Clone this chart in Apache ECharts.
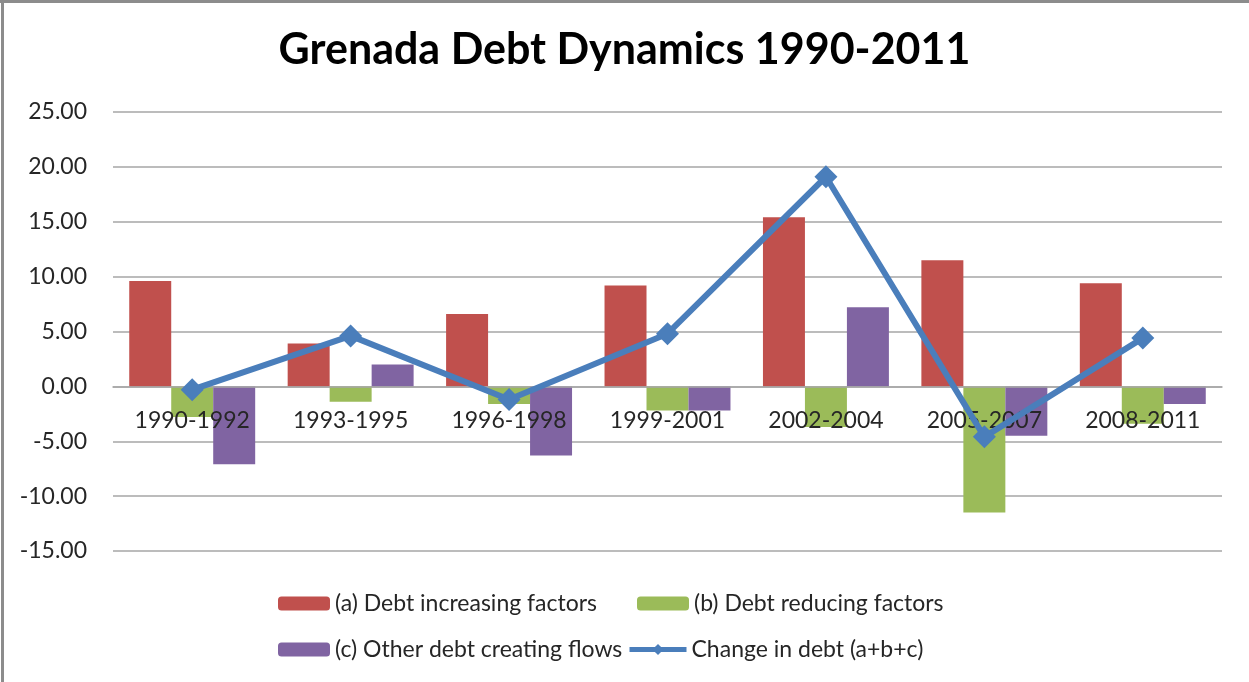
<!DOCTYPE html>
<html>
<head>
<meta charset="utf-8">
<title>Grenada Debt Dynamics 1990-2011</title>
<script src="https://cdn.jsdelivr.net/npm/echarts@6/dist/echarts.min.js"></script>
<style>
  html, body { margin: 0; padding: 0; background: #fff; }
  #chart { width: 1249px; height: 682px; }
</style>
</head>
<body>
<div id="chart"></div>
<script>
// Periods along the horizontal axis
const periods = ['1990-1992', '1993-1995', '1996-1998', '1999-2001', '2002-2004', '2005-2007', '2008-2011'];

// Contributions to the change in public debt (% of GDP)
const debtIncreasing = [9.6, 3.9, 6.6, 9.2, 15.4, 11.5, 9.4];
const debtReducing = [-2.8, -1.4, -1.6, -2.2, -3.7, -11.5, -3.4];
const otherFlows = [-7.1, 2.0, -6.3, -2.2, 7.2, -4.5, -1.6];
const changeInDebt = [-0.3, 4.6, -1.2, 4.8, 19.1, -4.6, 4.4];

// Value axis range and step
const yMin = -15;
const yMax = 25;
const yStep = 5;

const seriesNames = [
  '(a) Debt increasing factors',
  '(b) Debt reducing factors',
  '(c) Other debt creating flows',
  'Change in debt (a+b+c)'
];

const FONT = 'Lato, "Open Sans", sans-serif';
const LINE_BLUE = '#4a7ebb';
const GRID_TOP = 112;
const GRID_BOTTOM = 131;
const chartHeight = 682;

const chart = echarts.init(document.getElementById('chart'), null, { renderer: 'canvas' });

// Pixel distance from the bottom of the plot to the zero line,
// so the category axis (line and labels) sits at zero
const plotHeight = chartHeight - GRID_TOP - GRID_BOTTOM;
const zeroOffset = -plotHeight * (0 - yMin) / (yMax - yMin);

function legendAt(name, left, top, w, h, extra) {
  return Object.assign({
    data: [name],
    left: left,
    top: top,
    padding: 0,
    itemWidth: w,
    itemHeight: h,
    itemGap: 5,
    selectedMode: false,
    textStyle: { fontFamily: FONT, fontSize: 23, color: '#262626' }
  }, extra || {});
}

chart.setOption({
  animation: false,
  backgroundColor: '#ffffff',
  title: {
    text: 'Grenada Debt Dynamics 1990-2011',
    left: 'center',
    top: 24,
    textStyle: { fontFamily: FONT, fontSize: 43, fontWeight: 'bold', color: '#000' }
  },
  legend: [
    legendAt(seriesNames[0], 278, 592, 52, 14),
    legendAt(seriesNames[1], 637, 592, 52, 14),
    legendAt(seriesNames[2], 278, 638, 52, 14),
    legendAt(seriesNames[3], 627, 638, 57, 14, {
      lineStyle: { width: 5, color: LINE_BLUE }
    })
  ],
  grid: { left: 113, right: 27, top: GRID_TOP, bottom: GRID_BOTTOM, containLabel: false },
  xAxis: {
    type: 'category',
    data: periods,
    offset: zeroOffset,
    z: 10,
    axisLine: { onZero: false, lineStyle: { color: '#a6a6a6', width: 1.5 } },
    axisTick: { show: false },
    axisLabel: { fontFamily: FONT, fontSize: 23, color: '#262626', margin: 23 },
    splitLine: { show: false }
  },
  yAxis: {
    type: 'value',
    min: yMin,
    max: yMax,
    interval: yStep,
    axisLine: { show: false },
    axisTick: { show: false },
    axisLabel: {
      fontFamily: FONT, fontSize: 23, color: '#262626', margin: 26,
      formatter: v => v.toFixed(2)
    },
    splitLine: { lineStyle: { color: '#a6a6a6', width: 1.5 } }
  },
  series: [
    {
      name: seriesNames[0], type: 'bar', data: debtIncreasing,
      barGap: '0%', barCategoryGap: '20.5%',
      itemStyle: { color: '#c0504d' }
    },
    {
      name: seriesNames[1], type: 'bar', data: debtReducing,
      barGap: '0%', barCategoryGap: '20.5%',
      itemStyle: { color: '#9bbb59' }
    },
    {
      name: seriesNames[2], type: 'bar', data: otherFlows,
      barGap: '0%', barCategoryGap: '20.5%',
      itemStyle: { color: '#8064a2' }
    },
    {
      name: seriesNames[3], type: 'line', data: changeInDebt,
      symbol: 'diamond', symbolSize: 23, z: 20,
      lineStyle: { color: LINE_BLUE, width: 6 },
      itemStyle: { color: LINE_BLUE }
    }
  ],
  graphic: [
    { type: 'line', shape: { x1: 0, y1: 1.5, x2: 1249, y2: 1.5 }, style: { stroke: '#8c8c8c', lineWidth: 3 }, silent: true },
    { type: 'line', shape: { x1: 2.5, y1: 0, x2: 2.5, y2: 682 }, style: { stroke: '#8c8c8c', lineWidth: 3 }, silent: true }
  ]
});
</script>
</body>
</html>
